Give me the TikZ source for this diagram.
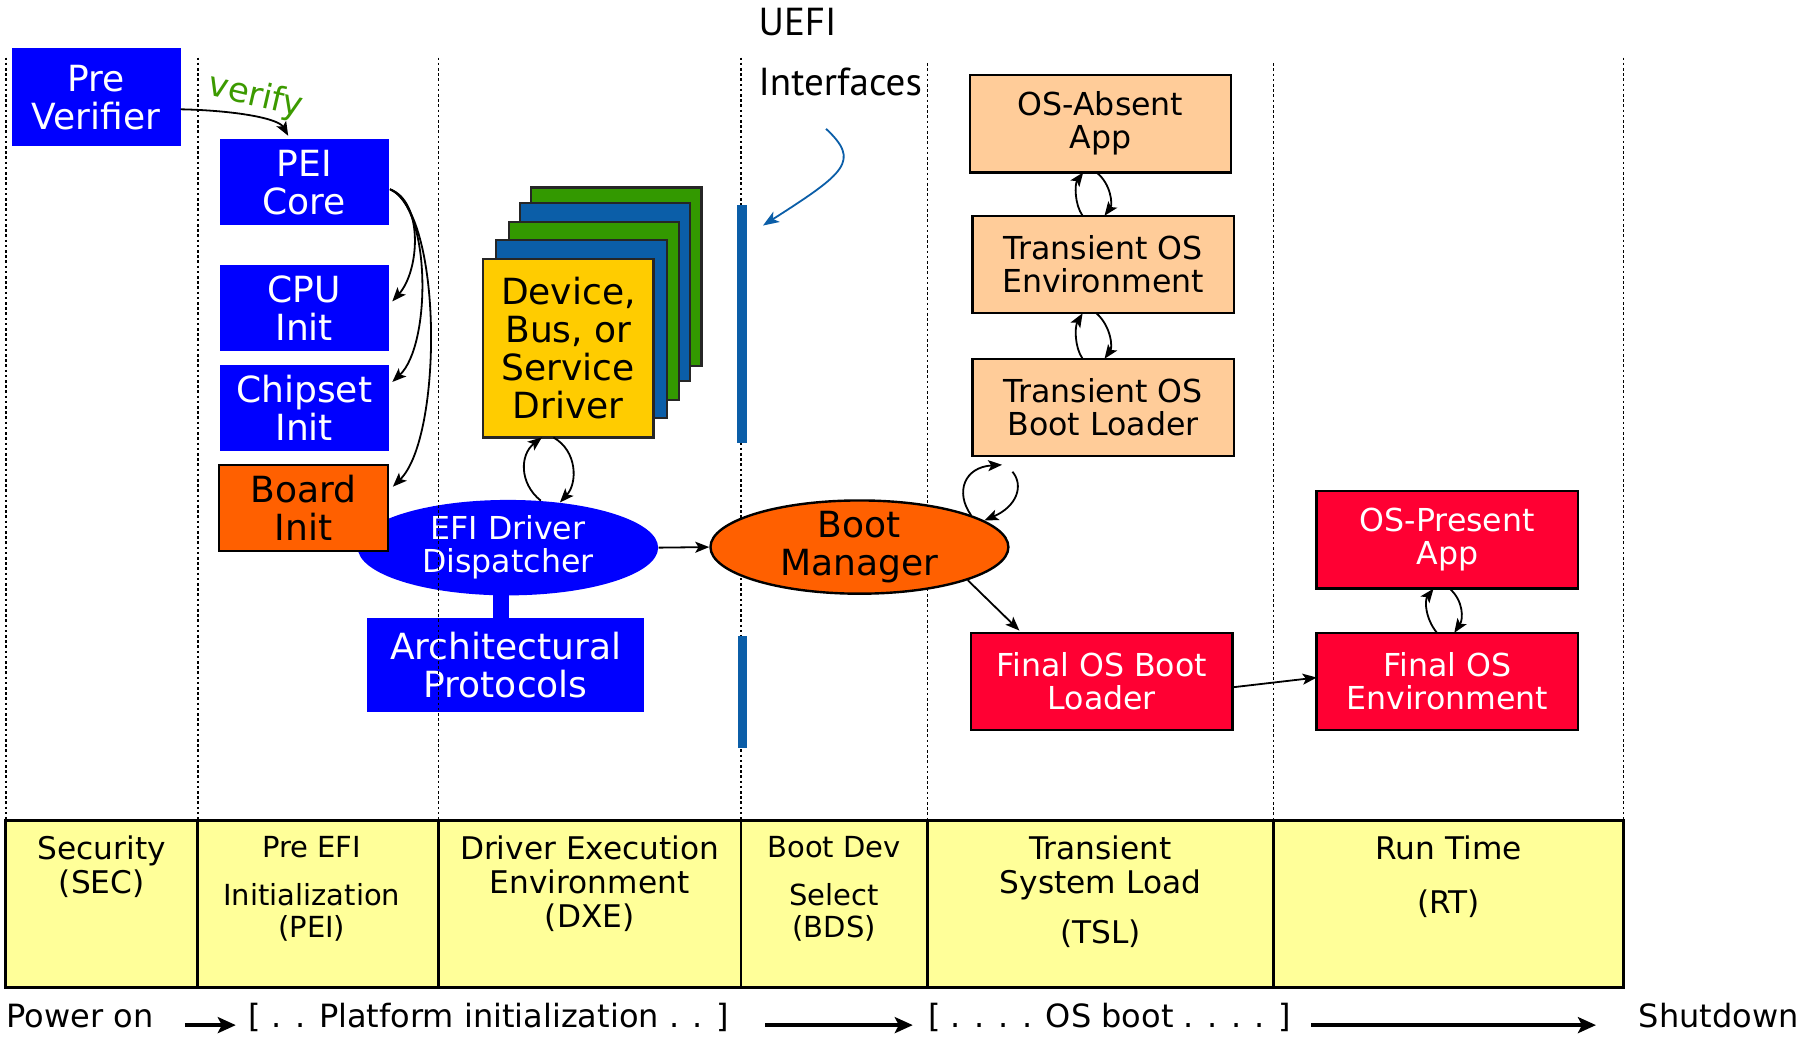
\documentclass[tikz,border=0pt]{standalone}
\usepackage{fontspec}
\setmainfont{DejaVu Sans}
\newfontfamily\handfont{PT Sans}
\usetikzlibrary{shapes.geometric,arrows.meta,calc,fit}

\definecolor{pblue}{RGB}{0,0,255}
\definecolor{porange}{RGB}{255,96,0}
\definecolor{ppeach}{RGB}{255,204,153}
\definecolor{pred}{RGB}{255,0,51}
\definecolor{pyellow}{RGB}{255,255,153}
\definecolor{dyellow}{RGB}{255,204,0}
\definecolor{sgreen}{RGB}{51,153,0}
\definecolor{sblue}{RGB}{11,94,168}
\definecolor{vgreen}{RGB}{60,154,0}

\tikzset{
  bigtxt/.style={font=\fontsize{18}{19}\selectfont, align=center},
  medtxt/.style={font=\fontsize{15.8}{16.4}\selectfont, align=center},
  phtxt/.style={font=\fontsize{15.6}{17}\selectfont, align=center, anchor=north, inner sep=0pt},
  phsmall/.style={phtxt, font=\fontsize{14.5}{16.2}\selectfont},
  bottxt/.style={font=\fontsize{16}{18}\selectfont, inner sep=0pt, anchor=base},
  box/.style={rectangle, inner sep=0pt, outer sep=0pt},
  initbox/.style={box, minimum width=84.5pt, minimum height=43.1pt},
  bluebox/.style={box, fill=pblue, text=white, bigtxt},
  boardbox/.style={initbox, fill=porange, draw=black, line width=1pt, bigtxt},
  osbox/.style={box, minimum width=130.6pt, minimum height=48.7pt, draw=black, line width=1.2pt, medtxt},
  peachbox/.style={osbox, fill=ppeach},
  redbox/.style={osbox, fill=pred, text=white},
  stackbox/.style={box, minimum width=85.2pt, minimum height=89pt, draw=black!85, line width=1.1pt},
  cell/.style={box, fill=pyellow, draw=black, line width=1.4pt},
  guide/.style={line width=0.75pt, dash pattern=on 1.3pt off 1.3pt},
  ifbar/.style={box, fill=sblue, minimum width=4.8pt},
  conn/.style={line width=0.9pt, -{Stealth[length=7pt,width=5.5pt,inset=1.6pt]}},
  uefiarrow/.style={sblue, line width=0.9pt, -{Stealth[length=8pt,width=6pt,inset=2pt]}},
  fatarrow/.style={line width=2.2pt, -{Stealth[length=9pt,width=8pt,inset=2pt]}},
}

\begin{document}
\begin{tikzpicture}[x=0.575pt, y=-0.575pt]
\useasboundingbox (0,0) rectangle (1568,905);

% DXE dispatcher and its architectural protocols (under the phase guides)
\node[ellipse, fill=pblue, inner sep=0pt, minimum width=150.1pt, minimum height=47.7pt, text=white, medtxt] (edd) at (441.5,476) {EFI Driver\\Dispatcher};
\node[bluebox, minimum width=138.6pt, minimum height=47.2pt] (arch) at (439.5,578) {Architectural\\Protocols};
\draw[pblue, line width=8pt] ($(edd.south)+(-6,-3)$) -- ($(arch.north)+(-4,2)$);

% phase guides
\foreach \x/\t in {5/50,172/50,381/50,644/50,806/55,1107/55,1411/50}
  \draw[guide] (\x,\t) -- (\x,713);

% phase table
\node[cell, fit={(5,713) (172,858)}] (secph) {};
\node[cell, fit={(172,713) (381,858)}] (peiph) {};
\node[cell, fit={(381,713) (644,858)}] (dxeph) {};
\node[cell, fit={(644,713) (806,858)}] (bdsph) {};
\node[cell, fit={(806,713) (1107,858)}] (tslph) {};
\node[cell, fit={(1107,713) (1411,858)}] (rtph) {};

\node[phtxt] (secl) at ($(secph.north)+(0,13)$) {Security\\(SEC)};
\node[phsmall] (peil) at ($(peiph.north)+(-5.5,14)$) {Pre EFI\\[7.5pt]Initialization\\(PEI)};
\node[phtxt] (dxel) at ($(dxeph.north)+(0,13)$) {Driver Execution\\Environment\\(DXE)};
\node[phsmall] (bdsl) at ($(bdsph.north)+(0,14)$) {Boot Dev\\[7.5pt]Select\\(BDS)};
\node[phtxt] (tsll) at ($(tslph.north)+(0,13)$) {Transient\\System Load\\[8pt](TSL)};
\node[phtxt] (rtl) at ($(rtph.north)+(0,13)$) {Run Time\\[10pt](RT)};

% SEC / PEI blocks
\node[bluebox, minimum width=84.5pt, minimum height=48.9pt] (pv) at (83.5,84.5) {Pre\\Verifier};
\node[bluebox, initbox] (pei) at (264.5,158.5) {PEI\\Core};
\node[bluebox, initbox] (cpu) at (264.5,267.5) {CPU\\Init};
\node[bluebox, initbox] (chip) at (264.5,354.5) {Chipset\\Init};
\node[boardbox] (board) at (264,441.5) {Board\\Init};

% stack of DXE drivers
\node[stackbox, fill=sgreen] (drv4) at (535.6,240.4) {};
\node[stackbox, fill=sblue] (drv3) at (525.9,253.5) {};
\node[stackbox, fill=sgreen] (drv2) at (516.2,270.2) {};
\node[stackbox, fill=sblue] (drv1) at (505.4,285.8) {};
\node[stackbox, fill=dyellow, bigtxt] (dev) at (494,302.8) {Device,\\Bus, or\\Service\\Driver};

% UEFI interface bars
\node[ifbar, minimum height=119pt] (ifa) at (645,281.5) {};
\node[ifbar, minimum height=55.8pt] (ifb) at (645.5,601.5) {};

% boot manager
\node[ellipse, draw=black, line width=1.2pt, fill=porange, inner sep=0pt, minimum width=148.9pt, minimum height=46.6pt] (bm) at (747,475.5) {};
\node[bigtxt, inner sep=0pt] (bmtxt) at (bm.center) {Boot\\Manager};

% TSL / RT blocks
\node[peachbox] (oa) at (956.5,107.5) {OS-Absent\\App};
\node[peachbox] (te) at (958.75,229.9) {Transient OS\\Environment};
\node[peachbox] (tb) at (958.75,354.2) {Transient OS\\Boot Loader};
\node[redbox] (fbl) at (957.6,592.4) {Final OS Boot\\Loader};
\node[redbox] (op) at (1258,469.3) {OS-Present\\App};
\node[redbox] (fe) at (1258,592.4) {Final OS\\Environment};

% connectors
\draw[conn] ($(pv.east)+(0,10.5)$) .. controls (205,96) and (242,103) .. ($(pei.north)+(-14,-3)$);
\draw[conn] ($(pei.east)+(1,6)$) .. controls (368,175) and (365,235) .. ($(cpu.east)+(3,-5.5)$);
\draw[conn] ($(pei.east)+(1,6)$) .. controls (375,180) and (375,300) .. ($(chip.east)+(3,-22.5)$);
\draw[conn] ($(pei.east)+(1,6)$) .. controls (385,185) and (385,380) .. ($(board.east)+(4,-18.5)$);

\draw[conn] (edd.55) .. controls (451,420) and (452,395) .. ($(dev.south)+(-23,0)$);
\draw[conn] ($(dev.south)+(-13,0)$) .. controls (502,392) and (502,420) .. (edd.41);
\draw[conn] (edd.east) -- (bm.west);

\draw[conn] ($(te.north)+(-17.75,0)$) .. controls (934,178) and (934,160) .. ($(oa.south)+(-15,0)$);
\draw[conn] ($(oa.south)+(-3.5,0)$) .. controls (966,160) and (967,178) .. ($(te.north)+(1.25,0)$);
\draw[conn] ($(tb.north)+(-17.75,0)$) .. controls (934,302) and (934,284) .. ($(te.south)+(-17.75,0)$);
\draw[conn] ($(te.south)+(-5.75,0)$) .. controls (966,284) and (967,302) .. ($(tb.north)+(1.25,0)$);

\coordinate (bmloopA) at (871,404);
\coordinate (bmloopB) at (880,410);
\draw[conn] (bm.16) .. controls (830,428) and (838,406) .. (bmloopA);
\draw[conn] (bmloopB) .. controls (890,422) and (884,440) .. (bm.12);

\draw[conn] (bm.-17) -- ($(fbl.north west)+(42,-2)$);
\draw[conn] ($(fbl.east)+(0,5)$) -- ($(fe.west)+(0,-3.5)$);

\draw[conn] ($(fe.north)+(-9,0)$) .. controls (1239,538) and (1238,522) .. ($(op.south)+(-12,0)$);
\draw[conn] ($(op.south)+(2,0)$) .. controls (1272,522) and (1272,538) .. ($(fe.north)+(6,0)$);

% UEFI interfaces call-out
\node[font=\handfont\fontsize{19.5}{30}\selectfont, align=left, anchor=north west, inner sep=0pt] (uefi) at (659,7) {UEFI\\Interfaces};
\coordinate (uefistart) at (718,112);
\draw[uefiarrow] (uefistart) .. controls (748,140) and (735,150) .. ($(ifa.north east)+(14,18)$);

% verify label
\node[text=vgreen, font=\fontsize{17}{18}\selectfont, rotate=-13, inner sep=0pt] (vf) at (222,84) {verify};

% boot timeline
\node[bottxt] (pw) at (69.5,893) {Power on};
\node[bottxt] (pf) at (425,893) {[ . . Platform initialization . . ]};
\node[bottxt] (ob) at (964.5,893) {[ . . . . OS boot . . . . ]};
\node[bottxt] (sd) at (1494,893) {Shutdown};
\draw[fatarrow] ($(pw.base east)+(27,-2)$) -- ($(pf.base west)+(-11,-2)$);
\draw[fatarrow] ($(pf.base east)+(31,-2)$) -- ($(ob.base west)+(-13,-2)$);
\draw[fatarrow] ($(ob.base east)+(17,-2)$) -- ($(sd.base west)+(-37,-2)$);
\end{tikzpicture}
\end{document}
